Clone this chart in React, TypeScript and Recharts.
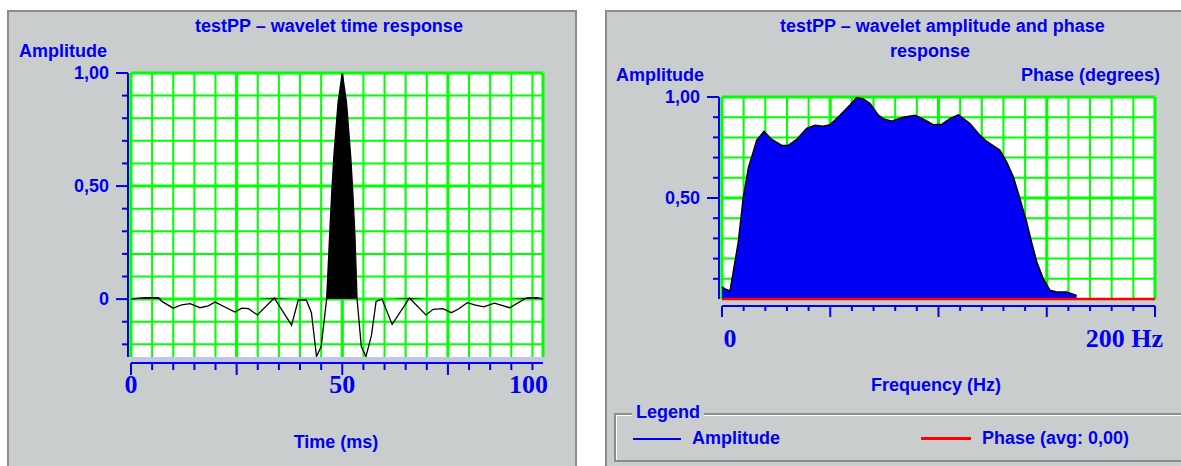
import React from 'react';
import {
  ComposedChart,
  Area,
  Line,
  XAxis,
  YAxis,
  CartesianGrid
} from 'recharts';

const BLUE = '#0000f0';
const GRID = '#00ff00';
const PANEL = '#c9cdcd';
const SANS = '"Liberation Sans", Arial, sans-serif';
const SERIF = '"Liberation Serif", "Times New Roman", serif';

// wavelet time response (ms, normalised amplitude)
const timeMs = [
  0, 2, 3.5, 6.5, 7.3, 10, 12, 14, 16.3, 18.3, 19.9, 22.2, 24.6, 26.2, 27.8, 29.9,
  33.9, 38, 39.6, 41.5, 42.7, 43.9, 45, 46.3, 47, 47.5, 48, 49, 50, 51, 52, 52.5,
  53, 53.5, 54.5, 55.6, 56.9, 58, 59.4, 61.8, 65.9, 69.8, 71.5, 73.8, 75.8, 77.4,
  79.6, 81.3, 83.5, 86, 89.6, 93.6, 96, 97.5
];
const timeAmp = [
  0, 0.004, 0.006, 0.006, -0.01, -0.04, -0.025, -0.02, -0.038, -0.03, -0.013, -0.035, -0.057, -0.04, -0.042, -0.07,
  0.005, -0.115, -0.003, -0.005, -0.06, -0.254, -0.21, 0, 0.28, 0.47, 0.63, 0.87, 1.0, 0.87, 0.63, 0.47,
  0.28, 0, -0.21, -0.254, -0.16, -0.01, 0, -0.112, 0.005, -0.07, -0.045, -0.042, -0.06, -0.045,
  -0.016, -0.025, -0.034, -0.018, -0.038, 0.005, 0.006, 0.001
];

// amplitude spectrum (Hz, normalised amplitude)
const freqHz = [
  0, 1.4, 3.7, 5.2, 7.5, 9.8, 12.2, 14.5, 16, 19.4, 23, 27.6, 30.6, 34.5, 39.1, 43,
  46.8, 49.9, 54.5, 59.1, 62.2, 65.3, 68.4, 72.2, 74.5, 78.4, 83.7, 89.1, 93, 97.6,
  101.5, 105.3, 109.2, 114.5, 119.2, 122.3, 128.4, 131.5, 134.6, 137.6, 140.7, 143,
  145.4, 148.4, 151.5, 154.6, 159.2, 163.8
];
const freqAmp = [
  0.06, 0.05, 0.04, 0.134, 0.28, 0.5, 0.65, 0.73, 0.785, 0.83, 0.79, 0.76, 0.76, 0.79, 0.845, 0.86,
  0.855, 0.863, 0.91, 0.96, 0.997, 0.99, 0.967, 0.91, 0.893, 0.88, 0.9, 0.91, 0.89, 0.863,
  0.865, 0.893, 0.912, 0.868, 0.81, 0.78, 0.736, 0.678, 0.604, 0.497, 0.381, 0.28,
  0.183, 0.1, 0.043, 0.035, 0.035, 0.018
];

// phase response (flat)
const phaseHz = [0, 200];
const phaseDeg = [0, 0];

// axes
const timeTicks = [0, 5, 10, 15, 20, 25, 30, 35, 40, 45, 50, 55, 60, 65, 70, 75, 80, 85, 90, 95];
const timeMajor = [0, 25, 50, 75];
const timeLabels: Record<string, string> = { '0': '0', '50': '50', '95': '100' };
const timeAmpTicks = [-0.2, -0.1, 0, 0.1, 0.2, 0.3, 0.4, 0.5, 0.6, 0.7, 0.8, 0.9, 1];
const timeAmpMinor = [-0.2, -0.1, 0.1, 0.2, 0.3, 0.4, 0.6, 0.7, 0.8, 0.9];
const timeAmpMajor = [0, 0.5, 1];

const freqTicks = [0, 10, 20, 30, 40, 50, 60, 70, 80, 90, 100, 110, 120, 130, 140, 150, 160, 170, 180, 190, 200];
const freqMinor = [10, 20, 30, 40, 60, 70, 80, 90, 110, 120, 130, 140, 160, 170, 180, 190];
const freqMajor = [0, 50, 100, 150, 200];
const freqLabels: Record<string, string> = { '0': '0', '200': '200 Hz' };
const specTicks = [0.1, 0.2, 0.3, 0.4, 0.5, 0.6, 0.7, 0.8, 0.9, 1];
const specMinor = [0.1, 0.2, 0.3, 0.4, 0.6, 0.7, 0.8, 0.9];
const specMajor = [0.5, 1];

const ampLabels: Record<string, string> = { '1': '1,00', '0.5': '0,50', '0': '0' };

const waveData = timeMs.map((t, i) => ({ t, amp: timeAmp[i], pos: Math.max(timeAmp[i], 0) }));
const specData = freqHz.map((f, i) => ({ f, amp: freqAmp[i] }));
const phaseData = phaseHz.map((f, i) => ({ f, phase: phaseDeg[i] }));

const TIME_MAX = 97.5;

const makeYTick = (majors: number[], offset: number) => (props: any) => {
  const { x, y, payload } = props;
  const v = payload.value;
  const len = majors.includes(v) ? 12 : 6;
  const label = ampLabels[String(v)];
  return (
    <g>
      <line x1={x + offset - len} y1={y} x2={x + offset} y2={y} stroke={BLUE} strokeWidth={2} />
      {label && (
        <text x={x - 22} y={y} textAnchor="end" dominantBaseline="central"
          fill={BLUE} fontFamily={SANS} fontWeight="bold" fontSize={18}>
          {label}
        </text>
      )}
    </g>
  );
};

const TimeTick = (props: any) => {
  const { x, y, payload } = props;
  const v = payload.value;
  const len = timeMajor.includes(v) ? 12 : 7;
  const label = timeLabels[String(v)];
  return (
    <g>
      <line x1={x} y1={y + 6} x2={x} y2={y + 6 + len} stroke={BLUE} strokeWidth={2} />
      {label && (
        <text x={v === 95 ? x - 4 : x} y={y + 27} textAnchor="middle" dominantBaseline="central"
          fill={BLUE} fontFamily={SERIF} fontWeight="bold" fontSize={26}>
          {label}
        </text>
      )}
    </g>
  );
};

const FreqTick = (props: any) => {
  const { x, y, payload } = props;
  const v = payload.value;
  const len = freqMajor.includes(v) ? 11 : 5;
  const label = freqLabels[String(v)];
  return (
    <g>
      <line x1={x} y1={y + 7} x2={x} y2={y + 7 + len} stroke={BLUE} strokeWidth={2} />
      {label && (
        <text x={x + 8} y={y + 39} textAnchor={v === 0 ? 'middle' : 'end'} dominantBaseline="central"
          fill={BLUE} fontFamily={SERIF} fontWeight="bold" fontSize={26}>
          {label}
        </text>
      )}
    </g>
  );
};

const Caption = ({ left, top, width, children, align = 'center' }: any) => (
  <div style={{
    position: 'absolute', left, top, width, textAlign: align,
    fontFamily: SANS, fontWeight: 'bold', fontSize: 18, lineHeight: '21px',
    color: BLUE, whiteSpace: 'nowrap'
  }}>
    {children}
  </div>
);

const App = () => {
  return (
    <div style={{ position: 'absolute', left: 0, top: 0, width: 1181, height: 466, overflow: 'hidden', background: '#ffffff' }}>
      {/* panels */}
      <div style={{ position: 'absolute', left: 7, top: 10, width: 566, height: 470, background: PANEL,
        borderLeft: '2px solid #8c8c8c', borderTop: '2px solid #8c8c8c', borderRight: '2px solid #8c8c8c' }} />
      <div style={{ position: 'absolute', left: 605, top: 10, width: 590, height: 470, background: PANEL,
        borderLeft: '2px solid #8c8c8c', borderTop: '2px solid #8c8c8c' }} />

      {/* time response */}
      <Caption left={179} top={16} width={300}>testPP – wavelet time response</Caption>
      <Caption left={19} top={41} width={100} align="left">Amplitude</Caption>
      <Caption left={236} top={432} width={200}>Time (ms)</Caption>
      <div style={{ position: 'absolute', left: 131, top: 357, width: 414, height: 5, background: '#c4c4e6' }} />

      <div style={{ position: 'absolute', left: 0, top: 0 }}>
        <ComposedChart width={577} height={466} data={waveData}
          margin={{ top: 73, right: 34, bottom: 49, left: 0 }}>
          <CartesianGrid horizontalValues={timeAmpMinor} verticalValues={timeTicks}
            stroke={GRID} strokeWidth={2} fill="#ffffff" fillOpacity={1} />
          <CartesianGrid horizontalValues={timeAmpMajor} verticalValues={[...timeMajor, TIME_MAX]}
            stroke={GRID} strokeWidth={3} />
          <XAxis dataKey="t" type="number" domain={[0, TIME_MAX]} ticks={timeTicks} interval={0}
            height={60} tickSize={0} tickMargin={0} tickLine={false} tick={TimeTick}
            axisLine={{ stroke: BLUE, strokeWidth: 2, transform: 'translate(0,6)' }} />
          <YAxis type="number" domain={[-0.256, 1]} ticks={timeAmpTicks} interval={0} allowDataOverflow
            width={131} tickSize={0} tickMargin={0} tickLine={false} tick={makeYTick(timeAmpMajor, -3)}
            axisLine={{ stroke: BLUE, strokeWidth: 2, transform: 'translate(-3,0)' }} />
          <Area type="linear" dataKey="pos" baseValue={0} fill="#000000" fillOpacity={1}
            stroke="none" isAnimationActive={false} />
          <Line type="linear" dataKey="amp" stroke="#000000" strokeWidth={1.3} dot={false}
            activeDot={false} isAnimationActive={false} />
        </ComposedChart>
      </div>

      {/* amplitude and phase response */}
      <Caption left={780} top={16} width={300}>testPP – wavelet amplitude and phase</Caption>
      <Caption left={830} top={41} width={200}>response</Caption>
      <Caption left={616} top={65} width={100} align="left">Amplitude</Caption>
      <Caption left={960} top={65} width={200} align="right">Phase (degrees)</Caption>
      <Caption left={836} top={375} width={200}>Frequency (Hz)</Caption>

      <div style={{ position: 'absolute', left: 605, top: 0 }}>
        <ComposedChart width={576} height={466}
          margin={{ top: 97, right: 26, bottom: 107, left: 0 }}>
          <CartesianGrid horizontalValues={specMinor} verticalValues={freqMinor}
            stroke={GRID} strokeWidth={2} fill="#ffffff" fillOpacity={1} />
          <CartesianGrid horizontalValues={specMajor} verticalValues={freqMajor}
            stroke={GRID} strokeWidth={3} />
          <XAxis dataKey="f" type="number" domain={[0, 200]} ticks={freqTicks} interval={0}
            height={60} tickSize={0} tickMargin={0} tickLine={false} tick={FreqTick}
            axisLine={{ stroke: BLUE, strokeWidth: 2, transform: 'translate(0,7)' }} />
          <YAxis type="number" domain={[0, 1]} ticks={specTicks} interval={0}
            width={117} tickSize={0} tickMargin={0} tickLine={false} tick={makeYTick(specMajor, -3)}
            axisLine={{ stroke: BLUE, strokeWidth: 2, transform: 'translate(-3,0)' }} />
          <Area data={specData} type="linear" dataKey="amp" baseValue={0} fill="#0000f4" fillOpacity={1}
            stroke="#000000" strokeWidth={1.5} isAnimationActive={false} activeDot={false} />
          <Line data={phaseData} type="linear" dataKey="phase" stroke="#ff0000" strokeWidth={2.5}
            dot={false} activeDot={false} isAnimationActive={false} />
        </ComposedChart>
      </div>

      {/* legend */}
      <div style={{ position: 'absolute', left: 614, top: 413, width: 600, height: 45,
        borderTop: '2px solid #8c8c8c', borderLeft: '2px solid #8c8c8c', borderBottom: '2px solid #8c8c8c',
        boxShadow: 'inset 1px 1px 0 #ffffff' }} />
      <div style={{ position: 'absolute', left: 632, top: 402, padding: '0 4px', background: PANEL,
        fontFamily: SANS, fontWeight: 'bold', fontSize: 18, lineHeight: '21px', color: BLUE }}>
        Legend
      </div>
      <div style={{ position: 'absolute', left: 633, top: 438, width: 48, height: 2, background: BLUE }} />
      <Caption left={692} top={428} width={120} align="left">Amplitude</Caption>
      <div style={{ position: 'absolute', left: 921, top: 437, width: 50, height: 3, background: '#ff0000' }} />
      <Caption left={982} top={428} width={200} align="left">Phase (avg: 0,00)</Caption>
    </div>
  );
};

export default App;
